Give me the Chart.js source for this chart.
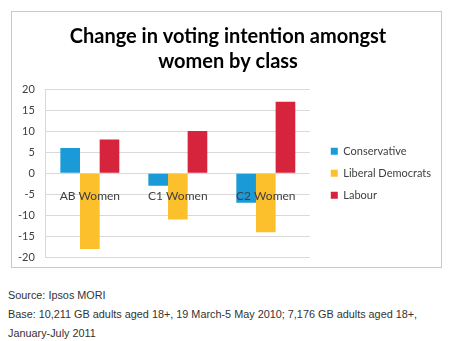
<!DOCTYPE html>
<html>
<head>
<meta charset="utf-8">
<script src="https://cdn.jsdelivr.net/npm/chart.js@4.4.0/dist/chart.umd.min.js"></script>
<style>
  body { margin: 0; background: #fff; width: 453px; height: 341px; overflow: hidden; position: relative; }
  #caixa { position: absolute; left: 11px; top: 11px; width: 429px; height: 255px; border: 1px solid #c8c8c8; }
  #fonte { position: absolute; left: 8px; top: 286px; font-family: "Liberation Sans", Arial, sans-serif; font-size: 10.85px; line-height: 19px; color: #333; }
</style>
</head>
<body>
<div id="caixa"><canvas id="grafico" width="429" height="255"></canvas></div>
<div id="fonte">
  Source: Ipsos MORI<br>
  Base: 10,211 GB adults aged 18+, 19 March-5 May 2010; 7,176 GB adults aged 18+,<br>
  January-July 2011
</div>
<script>
// dados do grafico
const categorias = ['AB Women', 'C1 Women', 'C2 Women'];
const conservative = [6, -3, -7];
const liberalDemocrats = [-18, -11, -14];
const labour = [8, 10, 17];
const ticksY = [-20, -15, -10, -5, 0, 5, 10, 15, 20];

const fonteTexto = 'Lato, "Open Sans", sans-serif';
const ctx = document.getElementById('grafico').getContext('2d');

new Chart(ctx, {
    type: 'bar',
    data: {
        labels: categorias,
        datasets: [
            { label: 'Conservative', data: conservative, backgroundColor: '#1b9ad8' },
            { label: 'Liberal Democrats', data: liberalDemocrats, backgroundColor: '#fcc02c' },
            { label: 'Labour', data: labour, backgroundColor: '#d5243c' }
        ]
    },
    options: {
        responsive: false,
        animation: false,
        layout: { padding: { left: 3, right: 0, bottom: 0 } },
        datasets: { bar: { categoryPercentage: 0.67, barPercentage: 1.0 } },
        plugins: {
            title: {
                display: true,
                text: ['Change in voting intention amongst', 'women by class'],
                color: '#000',
                font: { family: fonteTexto, size: 20, weight: 'bold', lineHeight: 1.25 },
                padding: { top: 12, bottom: 15 }
            },
            legend: {
                position: 'right',
                fullSize: false,
                maxWidth: 160,
                labels: {
                    color: '#404040',
                    font: { family: fonteTexto, size: 11 },
                    boxWidth: 7,
                    boxHeight: 7,
                    padding: 11
                }
            },
            tooltip: { enabled: false }
        },
        scales: {
            x: {
                position: { y: 0 },
                grid: { display: false },
                border: { display: false },
                // rotulos por cima das barras
                ticks: { z: 1, color: '#404040', font: { family: fonteTexto, size: 12 }, padding: 8 }
            },
            y: {
                min: ticksY[0],
                max: ticksY[ticksY.length - 1],
                afterBuildTicks: function(escala) {
                    escala.ticks = ticksY.map(v => ({ value: v }));
                },
                // marcas invisiveis para afastar os numeros do eixo
                grid: { color: '#d9d9d9', drawTicks: true, tickLength: 8, tickColor: 'rgba(0,0,0,0)' },
                border: { color: '#d9d9d9' },
                ticks: { color: '#404040', font: { family: fonteTexto, size: 11 }, padding: 3 }
            },
            // eixo vazio so para afastar a legenda do grafico
            espaco: {
                type: 'linear',
                position: 'right',
                grid: { display: false },
                border: { display: false },
                ticks: { display: false },
                afterFit: function(escala) { escala.width = 10; }
            }
        }
    }
});
</script>
</body>
</html>
